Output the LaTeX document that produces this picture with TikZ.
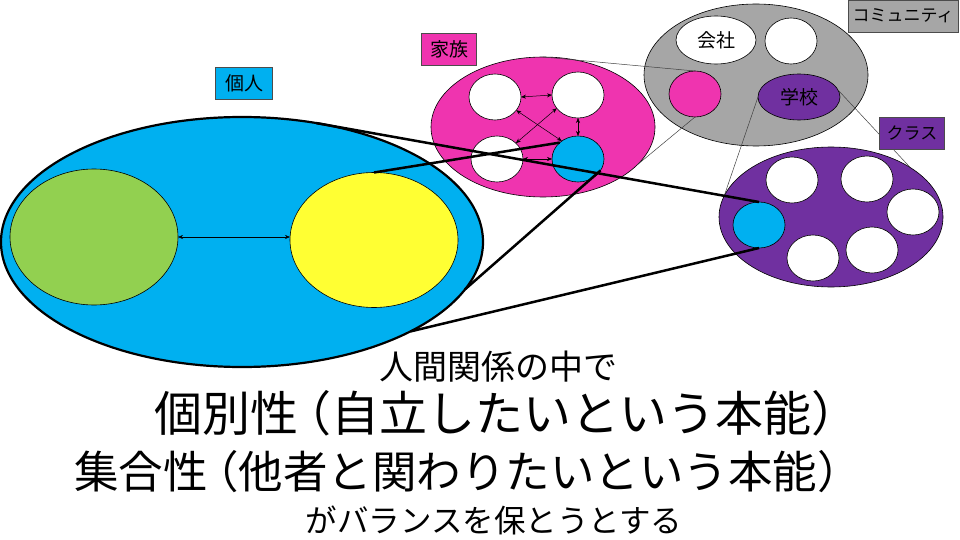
\documentclass[tikz,border=0pt]{standalone}
\usepackage{fontspec}
\newfontfamily\jp{Noto Sans CJK JP}
\usetikzlibrary{positioning,shapes.geometric,arrows.meta}
\definecolor{indivblue}{HTML}{00B0F0}
\definecolor{selfgreen}{HTML}{92D050}
\definecolor{selfyellow}{HTML}{FFFF33}
\definecolor{familypink}{HTML}{EF34AF}
\definecolor{commgray}{HTML}{A6A6A6}
\definecolor{classpurple}{HTML}{7030A0}
\newcommand{\jpsize}[1]{\jp\fontsize{#1}{#1}\selectfont}

\begin{document}
\begin{tikzpicture}[x=1pt,y=-1pt,
    oval/.style={ellipse,draw,inner sep=0pt,outer sep=0pt,line width=0.6pt},
    member/.style={oval,fill=white,minimum width=52pt,minimum height=46pt},
    tag/.style={draw=black!70,line width=0.5pt,inner sep=0pt,minimum height=32pt,font=\jpsize{19}},
    zoomline/.style={black!75,line width=0.5pt},
    thickline/.style={line width=2.5pt},
    link/.style={{Stealth[length=5pt,width=4pt]}-{Stealth[length=5pt,width=4pt]},line width=0.5pt}]
        \useasboundingbox (0,0) rectangle (960,540);
        % individual
        \node[oval,fill=indivblue,line width=2.2pt,minimum width=482pt,minimum height=250pt] (indiv) at (242,242) {};
        \node[oval,fill=selfgreen,minimum width=168pt,minimum height=136pt] (green) at (94,237) {};
        \node[oval,fill=selfyellow,minimum width=168pt,minimum height=135pt] (yellow) at (374,240) {};
        \draw[link] (green.east) -- (green.east -| yellow.west);
        % family
        \node[oval,fill=familypink,minimum width=224pt,minimum height=140pt] (family) at (543,127) {};
        \node[member] (famTL) at (495,97) {};
        \node[member] (famTR) at (578,95) {};
        \node[member] (famBL) at (497,159) {};
        \node[member,fill=indivblue] (famBR) at (578,159) {};
        \draw[link] (famTL.east) -- (famTR.west);
        \draw[link] (famTR.south) -- (famBR.north);
        \draw[link] (famBL.east) -- (famBR.west);
        \draw[link] (famTL.-32) -- (famBR.132);
        \draw[link] (famTR.-148) -- (famBL.40);
        % community
        \node[oval,fill=commgray,minimum width=224pt,minimum height=142pt] (community) at (756,75) {};
        \node[oval,fill=white,minimum width=80pt,minimum height=48pt,font=\jpsize{19}] (company) at (716,40) {会社};
        \node[member] (commfree) at (791,41) {};
        \node[member,fill=familypink] (commfam) at (695,94) {};
        \node[oval,fill=classpurple,minimum width=82pt,minimum height=46pt,font=\jpsize{19}] (school) at (799,97) {学校};
        % class
        \node[oval,fill=classpurple,minimum width=224pt,minimum height=140pt] (class) at (831,217) {};
        \node[member,fill=indivblue] (classblue) at (759,225) {};
        \foreach \x/\y [count=\i] in {792/180,867/179,913/212,813/258,872/250}
            \node[member] (classmate\i) at (\x,\y) {};
        % zoom lines
        \draw[zoomline] (family.north) -- (commfam.north);
        \draw[zoomline] (commfam.south) -- (family.-22);
        \draw[zoomline] (school.west) -- (class.169);
        \draw[zoomline] (school.10) -- (class.32);
        \draw[thickline] (indiv.58) -- (classblue.north);
        \draw[thickline] (yellow.north) -- (famBR.138);
        \draw[thickline] (famBR.-27) -- (indiv.-12);
        \draw[thickline] (indiv.-28) -- (classblue.south);
        % tags
        \node[tag,fill=indivblue,minimum width=57pt] (indivtag) at (244,83) {個人};
        \node[tag,fill=familypink,minimum width=55pt] (familytag) at (449,49) {家族};
        \node[tag,fill=commgray,minimum width=110pt,font=\jpsize{17}] (commtag) at (903,16) {コミュニティ};
        \node[tag,fill=classpurple,minimum width=65pt,font=\jpsize{17}] (classtag) at (912,133) {クラス};
        % text
        \node[inner sep=0pt,font=\jpsize{34}] (intro) at (498,367) {人間関係の中で};
        \node[inner sep=0pt,font=\jpsize{48}] (individuality) at (507,413) {個別性\kern-.3em（自立したいという本能）};
        \node[inner sep=0pt,font=\jpsize{44.5}] (collectivity) at (468,472) {集合性\kern-.3em（他者と関わりたいという本能）};
        \node[inner sep=0pt,font=\jpsize{31.5}] (balance) at (494,520) {がバランスを保とうとする};
    \end{tikzpicture}
\end{document}
